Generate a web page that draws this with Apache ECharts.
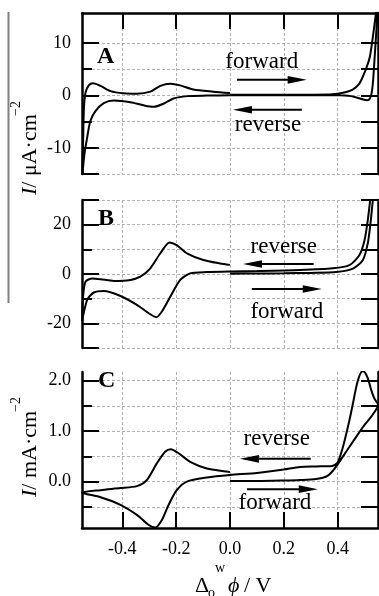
<!DOCTYPE html>
<html>
<head>
<meta charset="utf-8">
<script src="https://cdn.jsdelivr.net/npm/echarts@6/dist/echarts.min.js"></script>
<style>
html, body { margin: 0; padding: 0; background: #fff; }
#chart { width: 379px; height: 596px; }
</style>
</head>
<body>
<div id="chart"></div>
<script>
// cyclic voltammograms, [potential (V), current]; each scan starts at 0 V,
// goes positive, reverses, runs to the negative end and comes back to 0 V
const scanA = [
  [0.00, 0.10], [0.10, 0.10], [0.20, 0.10], [0.30, 0.12], [0.38, 0.2], [0.42, 0.5],
  [0.456, 1.1], [0.48, 2.2], [0.494, 3.6], [0.508, 5.4], [0.52, 7.4], [0.533, 11.9],
  [0.542, 15.5], [0.55, 18.5],
  [0.546, 14], [0.541, 10], [0.536, 6], [0.532, 3], [0.527, 0.6], [0.52, -0.6],
  [0.51, -0.95], [0.495, -0.8], [0.47, -0.4], [0.44, -0.1], [0.41, 0.0], [0.30, 0.0],
  [0.20, 0.0], [0.10, 0.0], [0.00, 0.0], [-0.086, -0.05], [-0.16, -0.15], [-0.21, -0.6],
  [-0.247, -1.6], [-0.284, -2.2], [-0.321, -1.9], [-0.37, -1.3], [-0.432, -1.0],
  [-0.469, -1.5], [-0.50, -3.0], [-0.519, -4.9], [-0.531, -8.1], [-0.541, -11.2], [-0.55, -16],
  [-0.546, -8.9], [-0.543, -2.6], [-0.537, 0.5], [-0.525, 1.9], [-0.509, 2.3], [-0.481, 1.8],
  [-0.444, 0.8], [-0.395, 0.38], [-0.346, 0.3], [-0.296, 0.7], [-0.259, 1.8], [-0.222, 2.2],
  [-0.185, 1.9], [-0.136, 1.1], [-0.062, 0.7], [0.00, 0.45]
];
const scanB = [
  [0.00, 0.1], [0.10, 0.2], [0.20, 0.3], [0.30, 0.45], [0.395, 0.8], [0.457, 2.2],
  [0.494, 5.7], [0.512, 12.4], [0.522, 20.5], [0.531, 30], [0.545, 42],
  [0.53, 38], [0.521, 30], [0.512, 21.8], [0.50, 13.7], [0.481, 7.7], [0.444, 3.6],
  [0.382, 2.3], [0.259, 1.6], [0.10, 1.2], [0.00, 1.05], [-0.086, 0.8], [-0.148, 0.27],
  [-0.185, -2.4], [-0.222, -9.2], [-0.253, -15.2], [-0.274, -17.5], [-0.302, -15.9],
  [-0.346, -12.5], [-0.407, -8.9], [-0.469, -6.9], [-0.506, -7.5], [-0.531, -10.5], [-0.55, -19],
  [-0.546, -9.2], [-0.537, -3.1], [-0.512, -1.8], [-0.481, -2.1], [-0.432, -2.8], [-0.37, -2.4],
  [-0.333, -1.1], [-0.296, 2.3], [-0.259, 8.4], [-0.225, 12.8], [-0.198, 11.7], [-0.16, 8.4],
  [-0.099, 5.7], [-0.037, 4.3], [0.00, 3.7]
];
const scanC = [
  [0.00, 0.01], [0.10, 0.01], [0.20, 0.02], [0.26, 0.03], [0.32, 0.05], [0.358, 0.1],
  [0.38, 0.2], [0.40, 0.34], [0.444, 0.69], [0.494, 1.08], [0.55, 1.52],
  [0.536, 1.65], [0.525, 1.81], [0.515, 2.0], [0.506, 2.12], [0.497, 2.18], [0.488, 2.17],
  [0.478, 2.05], [0.469, 1.87], [0.457, 1.55], [0.444, 1.22], [0.42, 0.69], [0.40, 0.38],
  [0.38, 0.31], [0.32, 0.30], [0.26, 0.29], [0.20, 0.24], [0.10, 0.17], [0.00, 0.13],
  [-0.086, 0.08], [-0.16, 0.0], [-0.198, -0.17], [-0.228, -0.46], [-0.253, -0.76],
  [-0.278, -0.91], [-0.302, -0.86], [-0.346, -0.66], [-0.407, -0.46], [-0.481, -0.31], [-0.55, -0.22],
  [-0.481, -0.17], [-0.407, -0.13], [-0.346, -0.09], [-0.309, 0.03], [-0.272, 0.36],
  [-0.241, 0.59], [-0.22, 0.64], [-0.191, 0.56], [-0.148, 0.39], [-0.086, 0.26], [0.00, 0.19]
];

const xTicks = [-0.4, -0.2, 0.0, 0.2, 0.4];
const xRange = [-0.55, 0.55];

const rangeA = [-15, 15.7];
const majorA = [-15, -10, 0, 10];
const minorA = [-5, 5];
const gridValsA = [-15, -10, -5, 0, 5, 10];
const labelsA = [-10, 0, 10];

const rangeB = [-30, 30];
const majorB = [-30, -20, 0, 20, 30];
const minorB = [-10, 10];
const gridValsB = [-30, -20, -10, 0, 10, 20, 30];
const labelsB = [-20, 0, 20];

const rangeC = [-0.92, 2.17];
const majorC = [0, 1, 2];
const minorC = [-0.5, 0.5, 1.5];
const gridValsC = [-0.5, 0, 0.5, 1, 1.5, 2];
const labelsC = [0, 1, 2];

// annotations: text at [x, y]; arrows [fromX, toX, y]
const notesA = [['forward', 0.118, 6.4], ['reverse', 0.141, -5.6]];
const arrowsA = [[0.026, 0.285, 2.95], [0.267, 0.011, -2.76]];
const notesB = [['reverse', 0.20, 10.9], ['forward', 0.211, -15.4]];
const arrowsB = [[0.311, 0.048, 4.05], [0.081, 0.341, -6.1]];
const notesC = [['reverse', 0.174, 0.84], ['forward', 0.167, -0.42]];
const arrowsC = [[0.30, 0.037, 0.45], [0.063, 0.326, -0.15]];

const FONT = 'Liberation Serif';
const gridLine = { color: '#b4b4b4', width: 1, type: [3, 2] };

const grids = [
  { left: 82, top: 13, width: 296, height: 161 },
  { left: 82, top: 200, width: 296, height: 148 },
  { left: 82, top: 372, width: 296, height: 156 }
];

function xAxis(gi, pos, showLine, showLabels) {
  return {
    type: 'value', gridIndex: gi, position: pos, min: xRange[0], max: xRange[1],
    axisLine: { show: showLine, onZero: false, lineStyle: { color: '#000', width: 2.5 } },
    axisTick: { show: showLine, inside: true, length: 16, customValues: xTicks,
      lineStyle: { color: '#000', width: 2 } },
    axisLabel: { show: showLabels, customValues: xTicks, margin: 12, color: '#000',
      fontFamily: FONT, fontSize: 18, formatter: v => v.toFixed(1) },
    splitLine: { show: true, lineStyle: gridLine }
  };
}

function yAxes(gi, range, major, minor, all, labels, fmt) {
  const base = { type: 'value', gridIndex: gi, min: range[0], max: range[1] };
  return [
    Object.assign({}, base, {
      position: 'left',
      axisLine: { show: true, onZero: false, lineStyle: { color: '#000', width: 2.5 } },
      axisTick: { inside: true, length: 17, customValues: major, lineStyle: { color: '#000', width: 2 } },
      axisLabel: { customValues: labels, margin: 11, color: '#000', fontFamily: FONT, fontSize: 18, formatter: fmt },
      splitLine: { show: false }
    }),
    Object.assign({}, base, {
      position: 'left',
      axisLine: { show: false, onZero: false },
      axisTick: { inside: true, length: 10, customValues: minor, lineStyle: { color: '#000', width: 2 } },
      axisLabel: { show: false },
      splitLine: { show: false }
    }),
    Object.assign({}, base, {
      position: 'right',
      axisLine: { show: true, onZero: false, lineStyle: { color: '#000', width: 2.5 } },
      axisTick: { inside: true, length: 17, customValues: all, lineStyle: { color: '#000', width: 2 } },
      axisLabel: { show: false },
      splitLine: { show: true, lineStyle: gridLine }
    })
  ];
}

function cv(xi, yi, data) {
  return {
    type: 'line', xAxisIndex: xi, yAxisIndex: yi, data: data,
    showSymbol: false, smooth: 0.25, clip: true,
    lineStyle: { color: '#000', width: 2 }
  };
}

const option = {
  animation: false,
  backgroundColor: '#fff',
  grid: grids.map(g => Object.assign({ containLabel: false, outerBoundsMode: 'none' }, g)),
  xAxis: [
    xAxis(0, 'top', true, false),
    xAxis(1, 'bottom', false, false),
    xAxis(2, 'bottom', true, true)
  ],
  yAxis: [].concat(
    yAxes(0, rangeA, majorA, minorA, gridValsA, labelsA, v => String(v)),
    yAxes(1, rangeB, majorB, minorB, gridValsB, labelsB, v => String(v)),
    yAxes(2, rangeC, majorC, minorC, gridValsC, labelsC, v => v.toFixed(1))
  ),
  series: [cv(0, 0, scanA), cv(1, 3, scanB), cv(2, 6, scanC)]
};

const chart = echarts.init(document.getElementById('chart'));
chart.setOption(option);

function txt(x, y, text, size, extra) {
  return {
    type: 'text', x: x, y: y,
    style: Object.assign({
      text: text, fill: '#000', fontFamily: FONT, fontSize: size,
      align: 'left', verticalAlign: 'bottom', textAlign: 'left', textVerticalAlign: 'bottom'
    }, extra || {})
  };
}

const bold = { fontWeight: 'bold', verticalAlign: 'middle', textVerticalAlign: 'middle' };
const italicI = { rich: { i: { fontStyle: 'italic', fontFamily: FONT, fontSize: 22 } } };

const graphics = [
  { type: 'line', shape: { x1: 8.5, y1: 12, x2: 8.5, y2: 303 }, style: { stroke: '#808080', lineWidth: 2 } },
  txt(97, 57, 'A', 24, bold),
  txt(98, 219, 'B', 24, bold),
  txt(98, 381, 'C', 24, bold),
  // y titles (rotated)
  { type: 'group', x: 41, y: 195, rotation: Math.PI / 2, children: [
    txt(0, 0, '{i|I}/ μA·cm', 22, italicI),
    txt(79, -18, '−2', 14)
  ] },
  { type: 'group', x: 41, y: 497, rotation: Math.PI / 2, children: [
    txt(0, 0, '{i|I}/ mA·cm', 22, italicI),
    txt(85, -18, '−2', 14)
  ] },
  // x title
  txt(195, 597, 'Δ', 22),
  txt(208, 600, 'o', 14),
  txt(215, 575, 'w', 14),
  txt(228, 597, 'ϕ', 22, { fontStyle: 'italic' }),
  txt(244, 597, '/ V', 22)
];

function annotate(xi, yi, notes, arrows) {
  notes.forEach(n => {
    const p = chart.convertToPixel({ xAxisIndex: xi, yAxisIndex: yi }, [n[1], n[2]]);
    graphics.push(txt(p[0], p[1], n[0], 23,
      { align: 'center', textAlign: 'center', verticalAlign: 'middle', textVerticalAlign: 'middle' }));
  });
  arrows.forEach(a => {
    const p1 = chart.convertToPixel({ xAxisIndex: xi, yAxisIndex: yi }, [a[0], a[2]]);
    const p2 = chart.convertToPixel({ xAxisIndex: xi, yAxisIndex: yi }, [a[1], a[2]]);
    const dir = p2[0] > p1[0] ? 1 : -1;
    const head = 19, half = 3.8;
    graphics.push({ type: 'line', shape: { x1: p1[0], y1: p1[1], x2: p2[0] - dir * head * 0.7, y2: p2[1] },
      style: { stroke: '#000', lineWidth: 2 } });
    graphics.push({ type: 'polygon', shape: { points: [
      [p2[0], p2[1]], [p2[0] - dir * head, p2[1] - half], [p2[0] - dir * head, p2[1] + half]
    ] }, style: { fill: '#000' } });
  });
}

annotate(0, 0, notesA, arrowsA);
annotate(1, 3, notesB, arrowsB);
annotate(2, 6, notesC, arrowsC);

chart.setOption({ graphic: { elements: graphics } });
</script>
</body>
</html>
